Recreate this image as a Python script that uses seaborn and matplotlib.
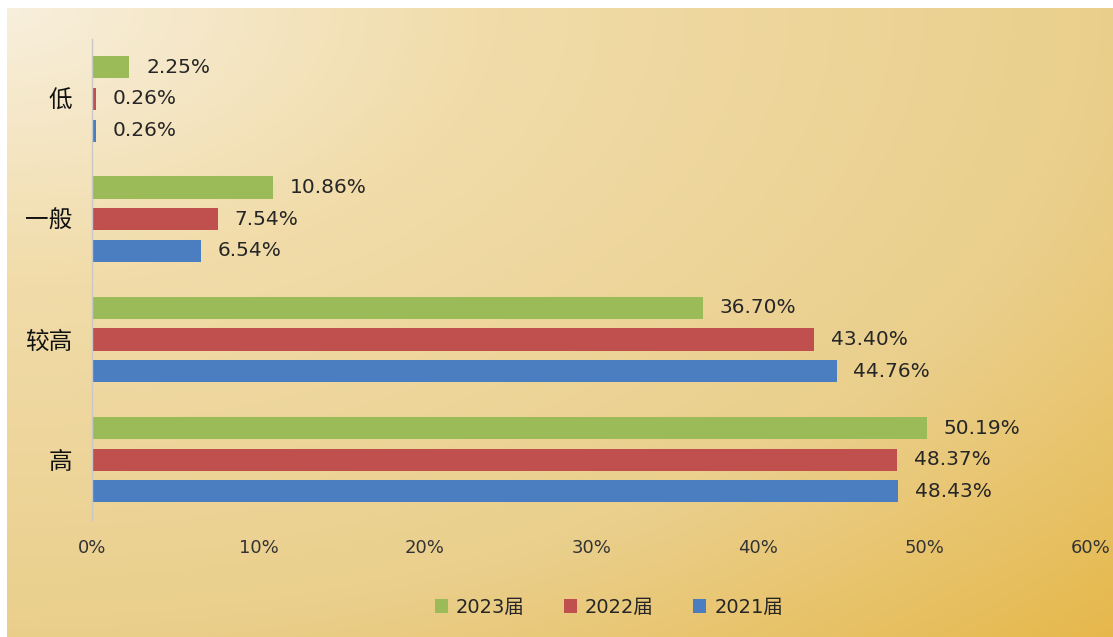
import numpy as np
import pandas as pd
import matplotlib
matplotlib.use("Agg")
import matplotlib.pyplot as plt
import seaborn as sns
from matplotlib.colors import LinearSegmentedColormap
from matplotlib.patches import Patch

# --- 数据 ---
categories = ["低", "一般", "较高", "高"]
years = ["2023届", "2022届", "2021届"]
v2023 = [2.25, 10.86, 36.70, 50.19]
v2022 = [0.26, 7.54, 43.40, 48.37]
v2021 = [0.26, 6.54, 44.76, 48.43]
colors = ["#9bbb59", "#c0504d", "#4a7ec0"]
x_ticks = [0, 10, 20, 30, 40, 50, 60]

df = pd.DataFrame({
    "level": categories * 3,
    "year": [years[0]] * 4 + [years[1]] * 4 + [years[2]] * 4,
    "value": v2023 + v2022 + v2021,
})

sns.set_theme(style="white")
plt.rcParams["font.family"] = ["DejaVu Sans", "Noto Sans CJK SC"]

fig = plt.figure(figsize=(11.13, 6.37), dpi=100)
fig.patch.set_facecolor("white")

# 渐变背景 (从左上角向右下角)
bg = fig.add_axes([0.006, 0.0, 0.994, 0.987])
cmap = LinearSegmentedColormap.from_list(
    "gold", [(0.0, "#f8efdc"), (0.3, "#f1dcaa"), (0.7, "#eacf8c"), (1.0, "#e6b84c")])
gx, gy = np.meshgrid(np.linspace(0, 1, 400), np.linspace(0, 1, 250))
grad = np.sqrt(gx ** 2 + gy ** 2) / np.sqrt(2)
bg.imshow(grad, cmap=cmap, aspect="auto", extent=[0, 1, 1, 0], vmin=0, vmax=1)
bg.axis("off")

ax = fig.add_axes([0.0827, 0.184, 0.897, 0.755])
ax.patch.set_alpha(0)
sns.barplot(data=df, y="level", x="value", hue="year", order=categories,
            hue_order=years, palette=colors, orient="h", width=0.79,
            gap=0.3, saturation=1, linewidth=0, ax=ax, legend=False)

for cont in ax.containers:
    labels = [f"{v:.2f}%" for v in cont.datavalues]
    ax.bar_label(cont, labels=labels, padding=12, fontsize=14.5, color="#262626")

ax.set_xlim(0, 60)
ax.set_xticks(x_ticks)
ax.set_xticklabels([f"{t}%" for t in x_ticks], fontsize=13, color="#333333")
ax.tick_params(axis="x", length=0, pad=14)
ax.tick_params(axis="y", length=0, pad=14)
for lbl in ax.get_yticklabels():
    lbl.set_fontfamily(["Noto Sans CJK SC", "DejaVu Sans"])
    lbl.set_fontsize(17)
    lbl.set_color("#111111")
ax.set_xlabel("")
ax.set_ylabel("")
for s in ["top", "right", "bottom"]:
    ax.spines[s].set_visible(False)
ax.spines["left"].set_color("#c8c8c8")
ax.spines["left"].set_linewidth(1)

handles = [Patch(facecolor=c, edgecolor="none") for c in colors]
fig.legend(handles, years, loc="center", bbox_to_anchor=(0.547, 0.047), ncol=3,
           frameon=False, fontsize=14, handlelength=0.7, handleheight=0.7,
           handletextpad=0.4, columnspacing=2.0)

fig.savefig("out.png", dpi=100)
